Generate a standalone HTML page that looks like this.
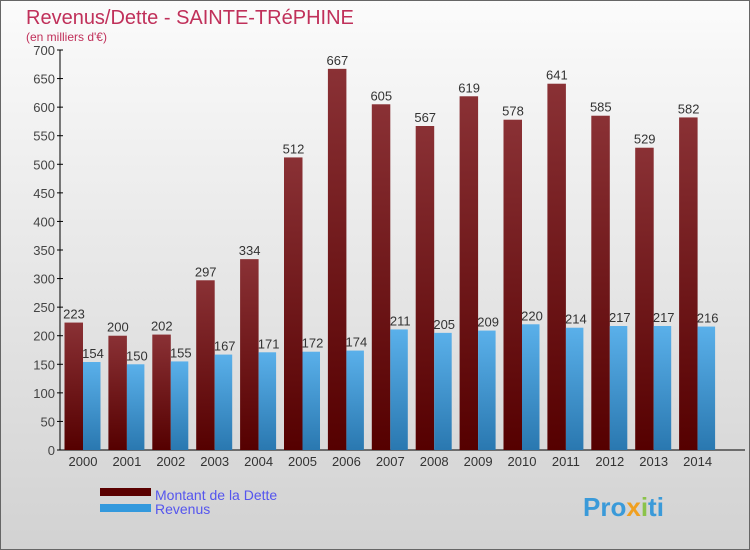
<!DOCTYPE html>
<html><head><meta charset="utf-8"><style>
body{margin:0;}
#c{width:750px;height:550px;position:relative;overflow:hidden;font-family:"Liberation Sans",sans-serif;}
</style></head><body>
<div id="c">
<svg id="s" width="750" height="550" xmlns="http://www.w3.org/2000/svg">
<defs>
<linearGradient id="bg" x1="0" y1="0" x2="0" y2="1"><stop offset="0" stop-color="#fbfbfb"/><stop offset="1" stop-color="#d2d2d2"/></linearGradient>
<linearGradient id="gd" x1="0" y1="0" x2="0" y2="1"><stop offset="0" stop-color="#8a3135"/><stop offset="1" stop-color="#550000"/></linearGradient>
<linearGradient id="gr" x1="0" y1="0" x2="0" y2="1"><stop offset="0" stop-color="#5ab0ea"/><stop offset="1" stop-color="#2a78b0"/></linearGradient>
</defs>
<rect x="0.5" y="0.5" width="749" height="549" fill="url(#bg)" stroke="#666"/>
<text x="26" y="24" font-size="20" fill="#c0305a">Revenus/Dette - SAINTE-TRéPHINE</text>
<text x="26" y="41" font-size="12" fill="#c0305a">(en milliers d'€)</text>
<g id="axes"></g>
<g id="bars"></g>
<g>
<rect x="100" y="488" width="51" height="8" fill="#5a0000"/>
<text x="155" y="500" font-size="14" fill="#5555ee">Montant de la Dette</text>
<rect x="100" y="504" width="51" height="8" fill="#3399dd"/>
<text x="155" y="514" font-size="14" fill="#5555ee">Revenus</text>
</g>
<text x="583" y="516" font-size="26" font-weight="bold" fill="#3a9ad9">Pro<tspan fill="#f0a020">x</tspan><tspan fill="#8bc34a">i</tspan>ti</text>
</svg>
</div>
<script>
const years=["2000","2001","2002","2003","2004","2005","2006","2007","2008","2009","2010","2011","2012","2013","2014"];
const dette=[223,200,202,297,334,512,667,605,567,619,578,641,585,529,582];
const revenus=[154,150,155,167,171,172,174,211,205,209,220,214,217,217,216];
const yTicks=[0,50,100,150,200,250,300,350,400,450,500,550,600,650,700];
const NS="http://www.w3.org/2000/svg";
const y=v=>450-v*400/700;
const xc=i=>83+i*43.9;
function mk(t,a,p){const e=document.createElementNS(NS,t);for(const k in a)e.setAttribute(k,a[k]);p.appendChild(e);return e;}
const ax=document.getElementById('axes'),bs=document.getElementById('bars');
const yl=mk('line',{x1:60,y1:50,x2:60,y2:450,stroke:'#000'},ax);


const xl=mk('line',{x1:60,y1:450,x2:745,y2:450,stroke:'#000'},ax);


yTicks.forEach(v=>{
 mk('line',{x1:57,x2:63,y1:y(v),y2:y(v),stroke:'#000'},ax);
 const t=mk('text',{x:55,y:y(v)+5,'font-size':13,fill:'#444','text-anchor':'end'},ax);t.textContent=v;
 
 
});
years.forEach((yr,i)=>{
 const c=xc(i);
 const t=mk('text',{x:c,y:466,'font-size':13,fill:'#333','text-anchor':'middle'},ax);t.textContent=yr;
 
 
 const b1=mk('rect',{x:c-18.5,y:y(dette[i]),width:18.5,height:450-y(dette[i]),fill:'url(#gd)'},bs);
 
 
 const b2=mk('rect',{x:c,y:y(revenus[i]),width:17.5,height:450-y(revenus[i]),fill:'url(#gr)'},bs);
 
 
 const l1=mk('text',{x:c-9,y:y(dette[i])-4,'font-size':13,fill:'#333','text-anchor':'middle'},bs);l1.textContent=dette[i];
 
 
 const l2=mk('text',{x:c+10,y:y(revenus[i])-4,'font-size':13,fill:'#333','text-anchor':'middle'},bs);l2.textContent=revenus[i];
 
 
});
</script>
</body></html>
